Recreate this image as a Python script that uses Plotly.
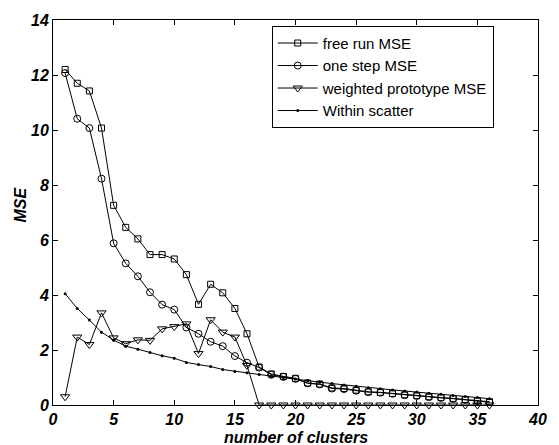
import plotly.graph_objects as go

clusters = list(range(1, 37))

free_run_mse = [12.2, 11.7, 11.42, 10.07, 7.26, 6.46, 6.04, 5.47, 5.47, 5.31,
                4.74, 3.66, 4.39, 4.08, 3.51, 2.59, 1.38, 1.13, 1.04, 0.97,
                0.8, 0.76, 0.62, 0.6, 0.54, 0.48, 0.46, 0.42, 0.37, 0.34,
                0.3, 0.27, 0.24, 0.2, 0.16, 0.12]
one_step_mse = [12.07, 10.41, 10.07, 8.23, 5.88, 5.15, 4.68, 4.1, 3.65, 3.47,
                2.82, 2.59, 2.3, 2.14, 1.78, 1.54, 1.36, 1.1, 1.02, 0.95,
                0.79, 0.75, 0.6, 0.58, 0.52, 0.47, 0.45, 0.41, 0.36, 0.33,
                0.29, 0.26, 0.23, 0.19, 0.15, 0.1]
weighted_proto_mse = [0.3, 2.47, 2.2, 3.35, 2.44, 2.23, 2.37, 2.35, 2.77, 2.85,
                      2.95, 1.87, 3.1, 2.65, 2.47, 1.44, 0, 0, 0, 0,
                      0, 0, 0, 0, 0, 0, 0, 0, 0, 0,
                      0, 0, 0, 0, 0, 0]
within_scatter = [4.05, 3.51, 3.09, 2.65, 2.36, 2.14, 2.03, 1.91, 1.79, 1.7,
                  1.55, 1.47, 1.4, 1.29, 1.22, 1.17, 1.11, 1.05, 1.0, 0.95,
                  0.88, 0.83, 0.78, 0.73, 0.68, 0.63, 0.59, 0.55, 0.51, 0.47,
                  0.43, 0.39, 0.35, 0.31, 0.27, 0.23]

x_ticks = [0, 5, 10, 15, 20, 25, 30, 35, 40]
y_ticks = [0, 2, 4, 6, 8, 10, 12, 14]
x_title = "number of clusters"
y_title = "MSE"

FONT = "Arial, 'Liberation Sans', sans-serif"
line = dict(color="black", width=1)

fig = go.Figure()
fig.add_trace(go.Scatter(x=clusters, y=free_run_mse, mode="lines+markers", name="free run MSE",
                         line=line, marker=dict(symbol="square-open", size=6, color="black", line=dict(width=1))))
fig.add_trace(go.Scatter(x=clusters, y=one_step_mse, mode="lines+markers", name="one step MSE",
                         line=line, marker=dict(symbol="circle-open", size=7, color="black", line=dict(width=1))))
fig.add_trace(go.Scatter(x=clusters, y=weighted_proto_mse, mode="lines+markers", name="weighted prototype MSE",
                         line=line, cliponaxis=False,
                         marker=dict(symbol="triangle-down-open", size=8, color="black", line=dict(width=1))))
fig.add_trace(go.Scatter(x=clusters, y=within_scatter, mode="lines+markers", name="Within scatter",
                         line=line, marker=dict(symbol="circle", size=3, color="black")))

axis_common = dict(showline=True, linecolor="black", linewidth=1, mirror="ticks",
                   ticks="inside", ticklen=5, tickcolor="black", showgrid=False, zeroline=False,
                   tickfont=dict(family=FONT, size=16, color="black"))

fig.update_xaxes(range=[0, 40], tickvals=x_ticks,
                 ticktext=[f"<b><i>{v}</i></b>" for v in x_ticks], **axis_common)
fig.update_yaxes(range=[0, 14], tickvals=y_ticks, ticklabelstandoff=0,
                 ticktext=[f"<b><i>{v}</i></b>" for v in y_ticks], **axis_common)

title_font = dict(family=FONT, size=16, color="black")
fig.add_annotation(text=f"<b><i>{x_title}</i></b>", xref="paper", yref="paper",
                   x=0.5, y=0, yshift=-32, showarrow=False, font=title_font,
                   xanchor="center", yanchor="middle")
fig.add_annotation(text=f"<b><i>{y_title}</i></b>", xref="paper", yref="paper",
                   x=0, y=0.5, xshift=-33, yshift=8, showarrow=False, font=title_font,
                   textangle=-90, xanchor="center", yanchor="middle")

fig.update_layout(
    width=559, height=445,
    margin=dict(l=53, r=14, t=17, b=40),
    plot_bgcolor="white", paper_bgcolor="white",
    font=dict(family=FONT, color="black"),
    legend=dict(x=0.451, y=0.985, xanchor="left", yanchor="top",
                bordercolor="black", borderwidth=1, bgcolor="white", itemwidth=40,
                font=dict(family=FONT, size=15, color="black"), tracegroupgap=0),
)

fig.write_html("out.html", config={"displayModeBar": False},
               post_script="document.body.style.margin='0';document.body.style.overflow='hidden';")
